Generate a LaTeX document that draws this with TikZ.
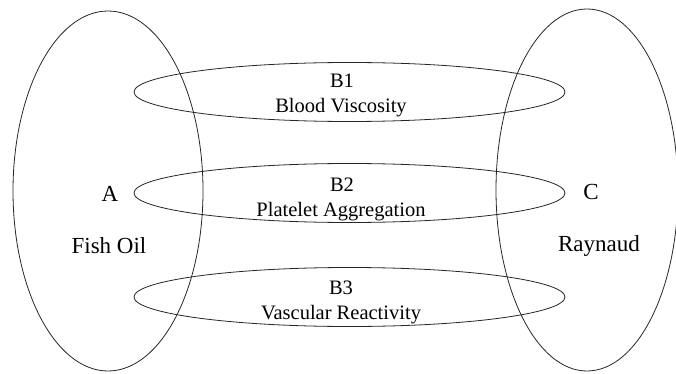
\documentclass[tikz,border=0pt]{standalone}
\usepackage{fontspec}
\setmainfont{Liberation Serif}
\usetikzlibrary{shapes.geometric,positioning}

\begin{document}
\begin{tikzpicture}[
		x=1pt, y=-1pt,
		concept/.style={ellipse, draw=black!85, line width=0.8pt, inner sep=0pt},
		link/.style={concept, minimum width=431pt, minimum height=59pt},
		lbl/.style={font=\fontsize{20.5}{22}\selectfont, inner sep=0pt, anchor=base},
		endlbl/.style={lbl, font=\fontsize{23}{25}\selectfont}
	]
	\useasboundingbox (0,0) rectangle (676,374);
	% the two end concepts
	\node[concept, minimum width=190pt, minimum height=360pt] (fish) at (108,191) {};
	\node[concept, minimum width=182pt, minimum height=362pt] (rayn) at (587,190) {};
	% the intermediate links
	\node[link] (b1) at (349.5,92) {};
	\node[link] (b2) at (349.5,193) {};
	\node[link] (b3) at (349.5,297) {};
	
	\node[endlbl] (a) at (110,201) {A};
	\node[endlbl] (fishlbl) at (109,253) {Fish Oil};
	\node[endlbl] (c) at (591,199) {C};
	\node[endlbl] (raynlbl) at (599,251) {Raynaud};
	
	\node[lbl] (b1name) at (342,88) {B1};
	\node[lbl] (b1lbl) at (341,113) {Blood Viscosity};
	\node[lbl] (b2name) at (342,191) {B2};
	\node[lbl] (b2lbl) at (341,216) {Platelet Aggregation};
	\node[lbl] (b3name) at (341,294) {B3};
	\node[lbl] (b3lbl) at (341,319) {Vascular Reactivity};
\end{tikzpicture}
\end{document}
